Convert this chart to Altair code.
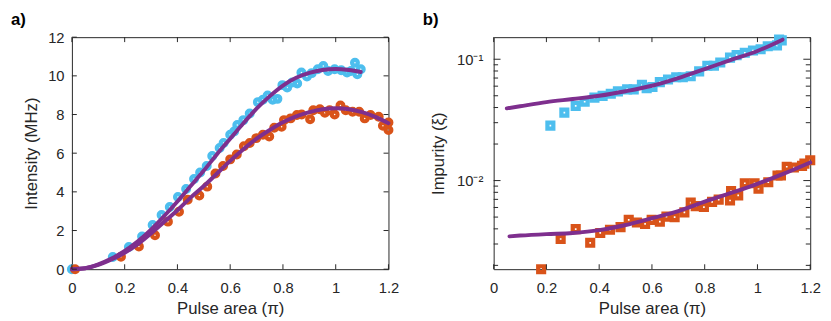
import altair as alt
import pandas as pd

# ---------------- Panel a data ----------------
a_blue_x = [0.0, 0.155, 0.216, 0.266, 0.306, 0.34, 0.371, 0.402, 0.433, 0.463, 0.486, 0.511, 0.532, 0.56,
            0.575, 0.6, 0.615, 0.627, 0.65, 0.674, 0.705, 0.724, 0.742, 0.761, 0.779, 0.798, 0.816, 0.835,
            0.854, 0.87, 0.891, 0.909, 0.932, 0.953, 0.971, 0.996, 1.021, 1.043, 1.058, 1.073, 1.082, 1.095]
a_blue_y = [0.0, 0.63, 1.15, 1.69, 2.29, 2.8, 3.22, 3.73, 4.15, 4.66, 5.0, 5.34, 5.85, 6.27,
            6.53, 6.95, 7.12, 7.46, 7.71, 8.05, 8.64, 8.76, 8.98, 8.76, 8.81, 9.52, 9.4, 9.66,
            9.6, 10.17, 9.97, 10.14, 10.34, 10.51, 10.25, 10.34, 10.29, 10.17, 10.25, 10.68, 10.08, 10.34]
a_orange_x = [0.012, 0.186, 0.254, 0.315, 0.364, 0.406, 0.439, 0.483, 0.513, 0.544, 0.573, 0.6, 0.625,
              0.652, 0.674, 0.699, 0.724, 0.748, 0.767, 0.795, 0.804, 0.829, 0.853, 0.871, 0.903, 0.915,
              0.94, 0.959, 0.977, 0.996, 1.018, 1.038, 1.064, 1.089, 1.11, 1.132, 1.163, 1.179, 1.2, 1.2]
a_orange_y = [0.0, 0.64, 1.17, 1.76, 2.46, 2.97, 3.59, 3.81, 4.27, 4.95, 5.34, 5.68, 5.93,
              6.36, 6.53, 6.78, 6.95, 6.86, 7.32, 7.37, 7.71, 7.8, 7.97, 8.0, 7.76, 8.22,
              8.27, 8.09, 8.22, 8.0, 8.47, 8.22, 8.14, 8.14, 7.8, 7.97, 7.88, 7.42, 7.59, 7.2]
a_fit_blue_x = [0.0, 0.05, 0.1, 0.15, 0.2, 0.25, 0.3, 0.35, 0.4, 0.45, 0.5, 0.55, 0.6, 0.65, 0.7,
                0.75, 0.8, 0.85, 0.9, 0.95, 1.0, 1.05, 1.095]
a_fit_blue_y = [0.0, 0.05, 0.25, 0.55, 0.95, 1.45, 2.05, 2.75, 3.5, 4.3, 5.1, 5.95, 6.75, 7.55, 8.3,
                8.95, 9.5, 9.9, 10.15, 10.3, 10.35, 10.3, 10.2]
a_fit_orange_x = [0.0, 0.05, 0.1, 0.15, 0.2, 0.25, 0.3, 0.35, 0.4, 0.45, 0.5, 0.55, 0.6, 0.65, 0.7,
                  0.75, 0.8, 0.85, 0.9, 0.95, 1.0, 1.05, 1.1, 1.15, 1.2]
a_fit_orange_y = [0.0, 0.05, 0.22, 0.5, 0.85, 1.3, 1.85, 2.45, 3.05, 3.7, 4.3, 4.95, 5.6, 6.2, 6.75,
                  7.2, 7.6, 7.9, 8.12, 8.27, 8.32, 8.27, 8.12, 7.88, 7.55]

# ---------------- Panel b data ----------------
b_blue_x = [0.215, 0.268, 0.311, 0.345, 0.382, 0.413, 0.444, 0.471, 0.506, 0.531, 0.562, 0.58, 0.602,
            0.63, 0.661, 0.692, 0.717, 0.747, 0.779, 0.81, 0.835, 0.859, 0.896, 0.921, 0.952, 0.983,
            1.012, 1.039, 1.074, 1.082, 1.092]
b_blue_y = [0.0284, 0.0363, 0.0413, 0.0446, 0.0483, 0.0499, 0.052, 0.0543, 0.0565, 0.0565, 0.0615,
            0.0578, 0.059, 0.0647, 0.068, 0.0711, 0.0711, 0.0724, 0.0795, 0.0884, 0.0884, 0.094,
            0.103, 0.108, 0.113, 0.118, 0.121, 0.128, 0.130, 0.145, 0.143]
b_orange_x = [0.18, 0.254, 0.311, 0.366, 0.404, 0.441, 0.481, 0.512, 0.543, 0.574, 0.599, 0.63, 0.655,
              0.686, 0.723, 0.747, 0.766, 0.797, 0.828, 0.853, 0.896, 0.9, 0.927, 0.952, 0.989, 1.004,
              1.041, 1.076, 1.089, 1.111, 1.138, 1.169, 1.178, 1.2]
b_orange_y = [0.00186, 0.0033, 0.00398, 0.00307, 0.0037, 0.00393, 0.00413, 0.00474, 0.00451, 0.0044,
              0.00474, 0.00459, 0.00504, 0.005, 0.00547, 0.00659, 0.00615, 0.00605, 0.00667, 0.00697,
              0.00685, 0.00819, 0.00755, 0.0095, 0.0095, 0.00857, 0.00968, 0.011, 0.011, 0.013,
              0.0128, 0.0132, 0.0138, 0.0147]
b_fit_blue_x = [0.05, 0.1, 0.2, 0.3, 0.4, 0.5, 0.6, 0.7, 0.8, 0.9, 1.0, 1.095]
b_fit_blue_y = [0.0394, 0.0410, 0.0443, 0.0470, 0.0500, 0.0545, 0.0605, 0.0700, 0.0830, 0.0990,
                0.1170, 0.1450]
b_fit_orange_x = [0.06, 0.1, 0.2, 0.3, 0.4, 0.5, 0.6, 0.7, 0.8, 0.9, 1.0, 1.1, 1.2]
b_fit_orange_y = [0.00347, 0.00352, 0.00362, 0.0037, 0.0039, 0.0043, 0.0049, 0.0056, 0.0067, 0.0079,
                  0.0094, 0.0114, 0.0141]

# ---------------- ticks ----------------
x_ticks = [0.0, 0.2, 0.4, 0.6, 0.8, 1.0, 1.2]
a_y_ticks = [0, 2, 4, 6, 8, 10, 12]
b_major = [0.01, 0.1]
b_minor = [0.002, 0.003, 0.004, 0.005, 0.006, 0.007, 0.008, 0.009,
           0.02, 0.03, 0.04, 0.05, 0.06, 0.07, 0.08, 0.09]

BLUE = "#4DBEEE"
ORANGE = "#D95319"
PURPLE = "#7E2F8E"
INK = "#262626"
W, H = 322, 236
FONT = "Liberation Sans"

xscale = alt.Scale(domain=[0, 1.2], nice=False, zero=False)
ya_scale = alt.Scale(domain=[0, 12], nice=False, zero=False)
yb_scale = alt.Scale(type="log", domain=[0.00186, 0.152], nice=False)

xaxis = alt.Axis(values=x_ticks, format="~g", title="Pulse area (π)", tickSize=0, domain=False,
                 grid=False, labelFlush=False, labelPadding=12, titlePadding=5)
ya_axis = alt.Axis(values=a_y_ticks, format="d", title="Intensity (MHz)", tickSize=0, domain=False,
                   grid=False, labelFlush=False, labelPadding=8, titlePadding=7)
yb_axis = alt.Axis(values=b_major, title="Impurity (ξ)", tickSize=0, domain=False, grid=False,
                   labelFlush=False, labelExpr="datum.value < 0.05 ? '10⁻²' : '10⁻¹'",
                   labelPadding=11, titlePadding=9)


def points(xs, ys, color, shape, size, yscale, yaxis):
    df = pd.DataFrame({"x": xs, "y": ys})
    return alt.Chart(df).mark_point(shape=shape, filled=False, strokeWidth=4.3, size=size,
                                    color=color, opacity=1).encode(
        x=alt.X("x:Q", scale=xscale, axis=xaxis),
        y=alt.Y("y:Q", scale=yscale, axis=yaxis),
    )


def fit(xs, ys, yscale, yaxis):
    df = pd.DataFrame({"x": xs, "y": ys})
    return alt.Chart(df).mark_line(color=PURPLE, strokeWidth=4, interpolate="monotone",
                                   strokeCap="round").encode(
        x=alt.X("x:Q", scale=xscale, axis=xaxis),
        y=alt.Y("y:Q", scale=yscale, axis=yaxis),
    )


def xticks(length, yscale, yaxis):
    df = pd.DataFrame({"x": x_ticks})
    bot = alt.Chart(df).mark_rule(color=INK, strokeWidth=1).encode(
        x=alt.X("x:Q", scale=xscale, axis=xaxis), y=alt.value(H), y2=alt.value(H - length))
    top = alt.Chart(df).mark_rule(color=INK, strokeWidth=1).encode(
        x=alt.X("x:Q", scale=xscale, axis=xaxis), y=alt.value(0), y2=alt.value(length))
    return [bot, top]


def yticks(vals, yscale, yaxis, length):
    df = pd.DataFrame({"y": vals})
    left = alt.Chart(df).mark_rule(color=INK, strokeWidth=1).encode(
        y=alt.Y("y:Q", scale=yscale, axis=yaxis), x=alt.value(0), x2=alt.value(length))
    right = alt.Chart(df).mark_rule(color=INK, strokeWidth=1).encode(
        y=alt.Y("y:Q", scale=yscale, axis=yaxis), x=alt.value(W), x2=alt.value(W - length))
    return [left, right]


def panel_label(text, dx):
    df = pd.DataFrame({"t": [text]})
    return alt.Chart(df).mark_text(font=FONT, fontSize=17, fontWeight="bold", align="left",
                                   baseline="middle", color="black").encode(
        text="t:N", x=alt.value(dx), y=alt.value(-17.5))


panel_a = alt.layer(
    points(a_blue_x, a_blue_y, BLUE, "circle", 34, ya_scale, ya_axis),
    points(a_orange_x, a_orange_y, ORANGE, "circle", 34, ya_scale, ya_axis),
    fit(a_fit_blue_x, a_fit_blue_y, ya_scale, ya_axis),
    fit(a_fit_orange_x, a_fit_orange_y, ya_scale, ya_axis),
    *xticks(5, ya_scale, ya_axis),
    *yticks(a_y_ticks, ya_scale, ya_axis, 5),
    panel_label("a)", -62),
).properties(width=W, height=H)

panel_b = alt.layer(
    points(b_blue_x, b_blue_y, BLUE, "square", 36, yb_scale, yb_axis),
    points(b_orange_x, b_orange_y, ORANGE, "square", 36, yb_scale, yb_axis),
    fit(b_fit_blue_x, b_fit_blue_y, yb_scale, yb_axis),
    fit(b_fit_orange_x, b_fit_orange_y, yb_scale, yb_axis),
    *xticks(5, yb_scale, yb_axis),
    *yticks(b_major, yb_scale, yb_axis, 7),
    *yticks(b_minor, yb_scale, yb_axis, 4.5),
    panel_label("b)", -72),
).properties(width=W, height=H)

chart = alt.hconcat(panel_a, panel_b, spacing=21).properties(
    padding={"left": 2, "top": 0, "right": 0, "bottom": 0}
).configure_view(
    stroke=INK, strokeWidth=1
).configure_axis(
    labelFont=FONT, titleFont=FONT, labelFontSize=15, titleFontSize=17,
    labelColor=INK, titleColor=INK, titleFontWeight="normal"
)

chart.save("out.html", embed_options={"renderer": "svg", "actions": False})
